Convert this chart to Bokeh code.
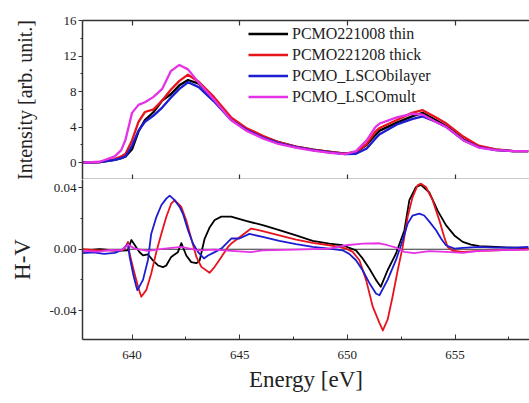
from bokeh.plotting import figure
from bokeh.layouts import column
from bokeh.models import (Range1d, FixedTicker, PrintfTickFormatter, LinearAxis,
                          Span, Legend, LegendItem)
from bokeh.embed import file_html
from bokeh.resources import INLINE

FONT = "Liberation Serif"

# ---------------- data ----------------
series_names = ["PCMO221008 thin", "PCMO221208 thick", "PCMO_LSCObilayer", "PCMO_LSCOmult"]
series_colors = ["#000000", "#e8141c", "#1c1cd2", "#e632e6"]

energy_xas = [637.7, 638.5, 639.2, 639.5, 639.7, 640.0, 640.3, 640.6, 641.0, 641.4,
              641.8, 642.2, 642.6, 643.1, 643.8, 644.6, 645.3, 646.1, 646.8, 647.6,
              648.4, 649.2, 649.9, 650.4, 650.9, 651.3, 651.5, 652.3, 653.0, 653.5,
              654.1, 654.6, 655.4, 656.1, 656.9, 657.7, 658.4]
xas_thin = [0.0, 0.05, 0.3, 0.5, 0.7, 1.5, 3.5, 4.8, 5.7, 7.0,
            7.7, 8.7, 9.3, 8.9, 7.1, 4.9, 3.8, 2.9, 2.3, 1.8,
            1.45, 1.2, 1.0, 1.15, 2.0, 3.1, 3.6, 4.5, 5.2, 5.6,
            4.8, 4.1, 2.6, 1.8, 1.45, 1.3, 1.3]
xas_thick = [0.0, 0.05, 0.4, 0.7, 1.0, 2.5, 4.6, 5.7, 6.0, 7.0,
             8.2, 9.2, 9.9, 9.1, 7.4, 5.1, 3.9, 3.0, 2.3, 1.8,
             1.45, 1.2, 1.0, 1.2, 2.1, 3.5, 3.9, 4.8, 5.6, 5.9,
             5.1, 4.4, 2.9, 1.9, 1.5, 1.3, 1.3]
xas_bilayer = [0.0, 0.05, 0.3, 0.5, 0.7, 1.9, 3.6, 4.6, 5.3, 6.2,
               7.3, 8.3, 9.05, 8.5, 6.9, 4.8, 3.7, 2.8, 2.2, 1.75,
               1.4, 1.15, 0.95, 1.0, 1.6, 2.7, 3.2, 4.3, 4.9, 5.2,
               4.6, 4.0, 2.5, 1.75, 1.4, 1.3, 1.3]
xas_mult = [0.0, 0.1, 0.7, 1.4, 2.6, 5.6, 6.5, 6.8, 7.4, 8.3,
            10.3, 11.0, 10.5, 9.0, 7.1, 4.8, 3.6, 2.7, 2.1, 1.7,
            1.35, 1.1, 0.95, 1.3, 2.5, 4.0, 4.4, 5.1, 5.5, 5.4,
            4.6, 4.0, 2.5, 1.7, 1.4, 1.3, 1.3]

hv_thin_e = [637.7, 638.5, 639.3, 639.8, 639.97, 640.35, 640.51, 640.74, 640.98, 641.21,
             641.44, 641.59, 641.82, 642.13, 642.29, 642.52, 642.75, 642.99, 643.14, 643.37,
             643.61, 643.84, 644.15, 644.6, 645.29, 646.07, 646.84, 647.62, 648.39, 649.16,
             649.78, 650.4, 650.71, 651.02, 651.33, 651.55, 651.87, 652.26, 652.65, 652.88,
             653.19, 653.42, 653.81, 654.2, 654.58, 654.97, 655.36, 655.74, 656.13, 656.9,
             657.68, 658.41]
hv_thin = [-0.001, 0.0, -0.001, -0.0008, 0.006, -0.002, -0.004, -0.0034, -0.0074, -0.0106,
           -0.0117, -0.0106, -0.005, -0.0019, 0.004, -0.0041, -0.0084, -0.0091, -0.0074, 0.0068,
           0.0144, 0.0191, 0.0213, 0.0213, 0.0185, 0.0157, 0.0124, 0.009, 0.0054, 0.0037,
           0.0026, -0.0007, -0.006, -0.0126, -0.020, -0.0245, -0.0137, -0.0028, 0.0124, 0.032,
           0.0406, 0.042, 0.037, 0.025, 0.0157, 0.009, 0.0048, 0.003, 0.002, 0.0015,
           0.001, 0.0005]

hv_thick_e = [637.7, 638.5, 639.5, 639.65, 639.81, 639.89, 640.12, 640.28, 640.43, 640.66,
              640.89, 641.13, 641.36, 641.59, 641.82, 641.98, 642.29, 642.52, 642.75, 642.99,
              643.22, 643.6, 643.84, 644.15, 644.46, 644.61, 645.53, 646.07, 646.84, 647.62,
              648.39, 649.16, 649.62, 649.94, 650.25, 650.56, 650.87, 651.18, 651.49, 651.65,
              651.87, 652.1, 652.34, 652.57, 652.8, 653.03, 653.26, 653.42, 653.65, 653.96,
              654.27, 654.5, 654.66, 654.89, 655.36, 656.13, 656.9, 657.68, 658.41]
hv_thick = [0.0, -0.0008, -0.0008, 0.0, 0.0048, -0.003, -0.016, -0.0245, -0.031, -0.0267,
            -0.016, -0.0017, 0.010, 0.021, 0.0298, 0.032, 0.0276, 0.0187, 0.007, -0.005,
            -0.0115, -0.0154, -0.0115, -0.005, 0.0015, 0.0037, 0.0135, 0.0118, 0.009, 0.0063,
            0.0041, 0.0026, 0.0015, 0.0004, -0.0017, -0.0072, -0.020, -0.0375, -0.048, -0.053,
            -0.046, -0.031, -0.0137, 0.0015, 0.021, 0.034, 0.0417, 0.0428, 0.0406, 0.032,
            0.019, 0.008, 0.0015, -0.001, -0.0017, -0.0011, -0.0007, -0.0004, 0.0]

hv_bilayer_e = [637.7, 638.2, 638.7, 639.2, 639.5, 639.81, 639.89, 640.05, 640.2, 640.25,
                640.51, 640.74, 640.89, 641.13, 641.36, 641.59, 641.75, 641.98, 642.21, 642.37,
                642.6, 642.83, 643.06, 643.34, 643.53, 643.84, 644.15, 644.46, 644.61, 644.99,
                645.45, 646.07, 646.84, 647.62, 648.39, 649.16, 649.78, 650.09, 650.4, 650.71,
                651.02, 651.33, 651.49, 651.87, 652.26, 652.57, 652.8, 653.03, 653.34, 653.57,
                653.81, 654.12, 654.35, 654.58, 654.97, 655.36, 656.13, 656.9, 657.68, 658.41]
hv_bilayer = [-0.0025, -0.002, -0.003, -0.0024, -0.0008, 0.0033, -0.005, -0.016, -0.0245, -0.0267,
              -0.020, -0.007, 0.010, 0.021, 0.0287, 0.033, 0.035, 0.032, 0.0276, 0.023,
              0.0124, 0.0037, -0.0017, -0.006, -0.0041, -0.0019, 0.0004, 0.0048, 0.007, 0.007,
              0.010, 0.008, 0.0054, 0.0033, 0.0015, 0.0004, -0.0007, -0.003, -0.0072, -0.0137,
              -0.022, -0.0289, -0.030, -0.020, -0.007, 0.0059, 0.0167, 0.022, 0.0232, 0.022,
              0.018, 0.0124, 0.007, 0.0026, 0.0004, 0.0009, 0.0015, 0.001, 0.001, 0.0015]

hv_mult_e = [637.7, 638.4, 639.0, 639.5, 639.81, 640.12, 640.74, 641.51, 642.29, 643.06,
             643.84, 644.61, 645.53, 646.07, 647.62, 649.16, 649.94, 650.71, 651.49, 651.87,
             652.26, 652.65, 653.1, 653.81, 654.58, 655.36, 656.13, 656.9, 658.41]
hv_mult = [-0.001, -0.0015, -0.0005, -0.0008, 0.003, 0.0004, -0.0011, 0.0004, 0.0015, -0.0007,
           -0.0002, -0.0011, -0.0019, -0.0007, -0.0002, 0.0004, 0.0026, 0.0037, 0.0039, 0.0026,
           0.0011, -0.0017, -0.0026, -0.0013, -0.0017, -0.0024, -0.0011, -0.0007, -0.0002]

energy_ticks = [640, 645, 650, 655]
energy_minor = [642.5, 647.5, 652.5, 657.5]
int_ticks = [0, 4, 8, 12, 16]
int_minor = [2, 6, 10, 14]
hv_ticks = [-0.04, 0.0, 0.04]
hv_minor = [-0.02, 0.02]

# ---------------- figures ----------------
x_range = Range1d(637.7, 658.46)
AX = "#333333"
TXT = "#222222"

def style_common(p):
    p.outline_line_color = None
    p.xgrid.visible = False
    p.ygrid.visible = False
    p.background_fill_color = "white"
    p.border_fill_color = "white"

def blank_x_axis(ax):
    ax.ticker = FixedTicker(ticks=energy_ticks)
    ax.major_tick_in = 5
    ax.major_tick_out = 0
    ax.minor_tick_in = 0
    ax.minor_tick_out = 0
    ax.major_label_text_font_size = "1px"
    ax.major_label_text_color = None
    ax.major_label_standoff = 0
    ax.axis_line_width = 1.6
    ax.major_tick_line_width = 1.2
    ax.axis_line_color = AX
    ax.major_tick_line_color = AX

def style_y(ax, label, standoff, size):
    ax.major_tick_out = 4
    ax.major_tick_in = 0
    ax.minor_tick_out = 2
    ax.minor_tick_in = 0
    ax.major_label_standoff = 2
    ax.major_label_text_font = FONT
    ax.major_label_text_font_size = "13px"
    ax.major_label_text_color = TXT
    ax.axis_label = label
    ax.axis_label_text_font = FONT
    ax.axis_label_text_font_size = size
    ax.axis_label_text_font_style = "normal"
    ax.axis_label_text_color = TXT
    ax.axis_label_standoff = standoff
    ax.axis_line_width = 1.5
    ax.axis_line_color = AX
    ax.major_tick_line_color = AX
    ax.minor_tick_line_color = AX

top = figure(width=529, height=179, x_range=x_range, y_range=Range1d(-1.9, 16),
             output_backend="svg", toolbar_location=None,
             min_border_left=82, min_border_right=0, min_border_top=20, min_border_bottom=0)
style_common(top)

blank_x_axis(top.xaxis[0])
top_above = LinearAxis()
blank_x_axis(top_above)
top.add_layout(top_above, "above")

ly = top.yaxis[0]
ly.ticker = FixedTicker(ticks=int_ticks, minor_ticks=int_minor)
style_y(ly, "Intensity [arb. unit.]", 25, "20px")
ly.major_label_overrides = {t: str(t) for t in int_ticks}

xas_series = [xas_thin, xas_thick, xas_bilayer, xas_mult]
items = []
for name, col, ys in zip(series_names, series_colors, xas_series):
    r = top.line(energy_xas, ys, line_color=col, line_width=2.3, line_join="round")
    items.append(LegendItem(label=name, renderers=[r]))

legend = Legend(items=items, location=(166, 72), glyph_width=40, glyph_height=21,
                label_height=21, spacing=0, padding=0, margin=0, label_standoff=4,
                border_line_color=None, background_fill_alpha=0,
                label_text_font=FONT, label_text_font_size="16px",
                label_text_color=TXT)
top.add_layout(legend, "center")

bot = figure(width=529, height=224, x_range=x_range, y_range=Range1d(-0.0589, 0.0455),
             output_backend="svg", toolbar_location=None,
             min_border_left=82, min_border_right=0, min_border_top=0, min_border_bottom=64)
style_common(bot)

bx = bot.xaxis[0]
bx.ticker = FixedTicker(ticks=energy_ticks, minor_ticks=energy_minor)
bx.major_tick_in = 5
bx.major_tick_out = 0
bx.minor_tick_in = 3
bx.minor_tick_out = 0
bx.major_label_standoff = 11
bx.major_label_text_font = FONT
bx.major_label_text_font_size = "13px"
bx.major_label_text_color = TXT
bx.axis_label = "Energy [eV]"
bx.axis_label_text_font = FONT
bx.axis_label_text_font_size = "23px"
bx.axis_label_text_font_style = "normal"
bx.axis_label_text_color = TXT
bx.axis_label_standoff = 5
bx.axis_line_width = 1.5
bx.axis_line_color = AX
bx.major_tick_line_color = AX
bx.minor_tick_line_color = AX

by = bot.yaxis[0]
by.ticker = FixedTicker(ticks=hv_ticks, minor_ticks=hv_minor)
by.formatter = PrintfTickFormatter(format="%.2f")
style_y(by, "H-V", 11, "23px")

bot.add_layout(Span(location=0, dimension="width", line_color=AX, line_width=1.2,
                    level="underlay"))

hv_series = [(hv_thin_e, hv_thin), (hv_thick_e, hv_thick),
             (hv_bilayer_e, hv_bilayer), (hv_mult_e, hv_mult)]
for col, (xs, ys) in zip(series_colors, hv_series):
    bot.line(xs, ys, line_color=col, line_width=1.8, line_join="round")

layout = column(top, bot, spacing=0)
open("out.html", "w").write(file_html(layout, INLINE))
